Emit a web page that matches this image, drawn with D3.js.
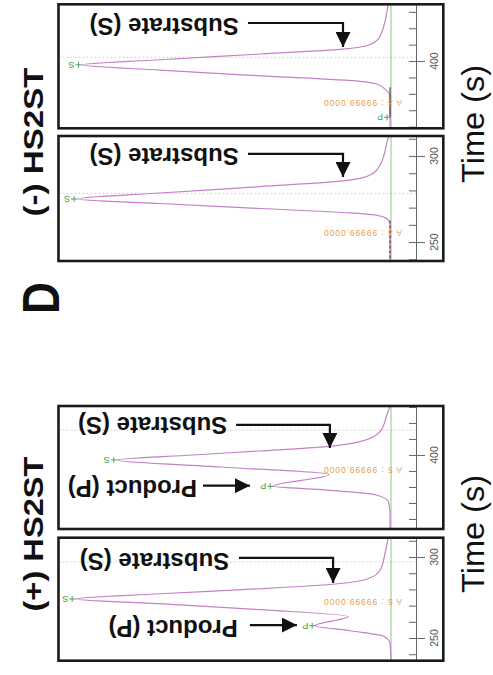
<!DOCTYPE html>
<html>
<head>
<meta charset="utf-8">
<script src="https://cdn.jsdelivr.net/npm/d3@7"></script>
<style>
  body { margin: 0; background: #fff; }
  svg { display: block; }
</style>
</head>
<body>
<script>
// time windows of the four chromatograms (s)
const windowMinusLate = [359.0, 434.6]
const windowMinusEarly = [239.0, 311.6]
const windowPlusLate = [353.75, 430.6]
const windowPlusEarly = [236.0, 311.9]

// traces: [time (s), detector signal (% of full scale)]
const traceMinusLate = [
  [359.0, 0.3], [378.8, 0.3], [382.9, 1.9], [386.0, 4.5], [387.6, 9.7], [391.0, 40.9],
  [394.5, 72.2], [397.7, 96.7], [400.8, 72.2], [404.3, 40.9], [407.3, 15.0], [409.3, 7.6],
  [413.4, 4.0], [420.5, 2.4], [430.7, 1.2], [434.6, 0.9]
]
const traceMinusEarly = [
  [239.0, 0.3], [259.9, 0.3], [262.2, 0.6], [264.2, 1.9], [265.7, 5.0], [266.9, 12.8],
  [269.5, 40.9], [272.4, 72.2], [275.0, 98.1], [278.5, 72.2], [282.2, 40.9], [285.5, 15.0],
  [287.0, 9.7], [289.9, 5.6], [294.8, 3.4], [302.5, 1.9], [310.3, 0.9], [311.6, 0.6]
]
const tracePlusLate = [
  [353.75, 0.3], [362.5, 0.3], [370.8, 0.8], [375.0, 4.5], [378.1, 20.1], [380.4, 36.8],
  [387.8, 19.4], [392.5, 53.4], [396.9, 85.7], [400.0, 61.8], [402.5, 40.9], [405.2, 20.1],
  [408.3, 9.7], [414.6, 3.4], [425.0, 1.3], [430.6, 0.3]
]
const tracePlusEarly = [
  [236.0, 0.0], [240.7, 0.1], [246.7, 0.3], [251.2, 2.4], [254.5, 12.8], [257.6, 23.7],
  [263.2, 13.3], [267.5, 40.9], [271.2, 72.2], [274.1, 98.7], [277.3, 72.2], [280.4, 40.9],
  [283.5, 16.6], [286.6, 7.2], [291.8, 3.4], [302.0, 1.9], [311.9, 0.9]
]

// integrated peak markers: [label, time, signal]
const peaksMinusLate = [['S', 397.7, 96.7], ['P', 365.7, 0.3]]
const peaksMinusEarly = [['S', 275.0, 98.1]]
const peaksPlusLate = [['S', 396.9, 85.7], ['P', 380.4, 36.8]]
const peaksPlusEarly = [['S', 274.1, 98.7], ['P', 257.6, 23.7]]

// dotted reference line time and integration-window label per run
const gridTimes = [402.3, 278.3, 415.6, 296.9]
const windowLabels = ['A 3 : 99999.0000', 'A 3 : 99999.0000', 'A 5 : 99999.0000', 'A 5 : 99999.0000']
const windowLabelTimes = [372.6, 253.1, 388.6, 270.4]

// dark integration baseline segments [from, to] (s)
const integrationMinusLate = [366.0, 384.0]
const integrationMinusEarly = [240.5, 262.5]

// annotations: text anchored at (time, signal), arrow in (time, signal)
const annotMinusLate = [
  { text: 'Substrate (S)', t: 426.0, s: 70.9, arrow: [[423.2, 44.7], [423.2, 15.0], [408.5, 15.0]] }
]
const annotMinusEarly = [
  { text: 'Substrate (S)', t: 304.5, s: 70.9, arrow: [[301.2, 44.7], [301.2, 15.0], [287.8, 15.0]] }
]
const annotPlusLate = [
  { text: 'Substrate (S)', t: 423.9, s: 74.5, arrow: [[418.75, 48.4], [418.75, 19.1], [404.4, 19.1]] },
  { text: 'Product (P)', t: 384.4, s: 80.8, arrow: [[380.8, 58.75], [380.8, 44.1]] }
]
const annotPlusEarly = [
  { text: 'Substrate (S)', t: 302.3, s: 73.9, arrow: [[299.4, 47.5], [299.4, 18.1], [284.0, 18.1]] },
  { text: 'Product (P)', t: 261.1, s: 68.1, arrow: [[258.0, 44.1], [258.0, 29.4]] }
]

const W = 493
const H = 675
const frame = { x0: 58.5, x1: 443.3, axisX: 416 }

const panels = [
  { id: 'a', y0: 4.3, y1: 128.3, win: windowMinusLate, trace: traceMinusLate, peaks: peaksMinusLate, annot: annotMinusLate, integ: integrationMinusLate, dash: null },
  { id: 'b', y0: 136, y1: 261, win: windowMinusEarly, trace: traceMinusEarly, peaks: peaksMinusEarly, annot: annotMinusEarly, integ: integrationMinusEarly, dash: '3,2' },
  { id: 'c', y0: 406, y1: 529, win: windowPlusLate, trace: tracePlusLate, peaks: peaksPlusLate, annot: annotPlusLate, integ: null },
  { id: 'd', y0: 537.7, y1: 660.7, win: windowPlusEarly, trace: tracePlusEarly, peaks: peaksPlusEarly, annot: annotPlusEarly, integ: null }
]

const font = "'Liberation Sans', Arial, Helvetica, sans-serif"
const narrow = "'Liberation Sans Narrow', 'Liberation Sans', Arial, sans-serif"

const svg = d3.select('body').append('svg')
  .attr('width', W)
  .attr('height', H)

const defs = svg.append('defs')
defs.append('marker')
  .attr('id', 'head')
  .attr('viewBox', '0 0 10 10')
  .attr('refX', 10)
  .attr('refY', 5)
  .attr('markerUnits', 'userSpaceOnUse')
  .attr('markerWidth', 15)
  .attr('markerHeight', 15)
  .attr('orient', 'auto')
  .append('path')
    .attr('d', 'M0,0L10,5L0,10Z')
    .attr('fill', '#111')

panels.forEach((p, i) => {
  const y = d3.scaleLinear().domain(p.win).range([p.y1, p.y0])
  const x = d3.scaleLinear().domain([0, 100]).range([391, 71])
  const g = svg.append('g')

  defs.append('clipPath').attr('id', 'clip-' + p.id)
    .append('rect')
      .attr('x', frame.x0)
      .attr('y', p.y0)
      .attr('width', frame.x1 - frame.x0)
      .attr('height', p.y1 - p.y0)

  const inner = g.append('g').attr('clip-path', 'url(#clip-' + p.id + ')')

  inner.append('line')
    .attr('x1', frame.x0)
    .attr('x2', frame.axisX)
    .attr('y1', y(gridTimes[i]))
    .attr('y2', y(gridTimes[i]))
    .attr('stroke', '#c4c4c4')
    .attr('stroke-width', 0.8)
    .attr('stroke-dasharray', '2,2')

  inner.append('line')
    .attr('x1', x(0))
    .attr('x2', x(0))
    .attr('y1', p.y0)
    .attr('y2', p.y1)
    .attr('stroke', '#86cc7c')
    .attr('stroke-width', 1)

  const line = d3.line()
    .x(d => x(d[1]))
    .y(d => y(d[0]))
    .curve(d3.curveMonotoneY)

  inner.append('path')
    .datum(p.trace.slice().reverse())
    .attr('d', line)
    .attr('fill', 'none')
    .attr('stroke', '#c67fc9')
    .attr('stroke-width', 1.2)

  if (p.integ) {
    inner.append('line')
      .attr('x1', x(0.3))
      .attr('x2', x(0.3))
      .attr('y1', y(p.integ[0]))
      .attr('y2', y(p.integ[1]))
      .attr('stroke', '#333')
      .attr('stroke-width', 1)
      .attr('stroke-dasharray', p.dash)
  }

  // integration window label (upside down, as on the instrument print-out)
  inner.append('text')
    .attr('transform', 'translate(' + (x(0) + 11) + ',' + y(windowLabelTimes[i]) + ') rotate(180)')
    .attr('font-family', narrow)
    .attr('font-size', 8.5)
    .attr('fill', '#e6a04a')
    .attr('dominant-baseline', 'hanging')
    .attr('textLength', 78)
    .text(windowLabels[i])

  // peak markers
  p.peaks.forEach(([lab, t, s]) => {
    const px = x(s)
    const py = y(t)
    inner.append('path')
      .attr('d', 'M' + (px - 6) + ',' + py + 'H' + px + 'M' + (px - 3) + ',' + (py - 3) + 'V' + (py + 3))
      .attr('stroke', '#3d9a48')
      .attr('stroke-width', 0.9)
      .attr('fill', 'none')
    inner.append('text')
      .attr('transform', 'translate(' + (px - 10) + ',' + py + ') rotate(180)')
      .attr('font-family', font)
      .attr('font-size', 9)
      .attr('fill', '#3d9a48')
      .attr('text-anchor', 'middle')
      .attr('dominant-baseline', 'central')
      .text(lab)
  })

  // time axis
  const minor = d3.range(Math.ceil(p.win[0] / 10) * 10, p.win[1], 10)
  const major = minor.filter(v => v % 50 === 0)

  g.append('g')
    .attr('transform', 'translate(' + frame.axisX + ',0)')
    .call(d3.axisLeft(y).tickValues(minor).tickSize(7).tickSizeOuter(0).tickFormat(''))
  const ax2 = g.append('g')
    .attr('transform', 'translate(' + frame.axisX + ',0)')
    .call(d3.axisRight(y).tickValues(major).tickSize(9).tickSizeOuter(0).tickFormat(''))
  ax2.select('.domain').remove()
  g.selectAll('.tick line, .domain').attr('stroke', '#666').attr('stroke-width', 1)

  g.selectAll('.tlabel')
    .data(major)
    .enter()
    .append('text')
      .attr('class', 'tlabel')
      .attr('transform', d => 'translate(434,' + y(d) + ') rotate(-90)')
      .attr('font-family', narrow)
      .attr('font-size', 10.5)
      .attr('fill', '#555')
      .attr('text-anchor', 'middle')
      .attr('dominant-baseline', 'central')
      .text(d => d)

  // annotations
  p.annot.forEach(a => {
    g.append('text')
      .attr('transform', 'translate(' + x(a.s) + ',' + y(a.t) + ') rotate(180)')
      .attr('font-family', font)
      .attr('font-weight', 'bold')
      .attr('font-size', 24)
      .attr('fill', '#111')
      .attr('text-anchor', 'middle')
      .text(a.text)
    g.append('path')
      .attr('d', d3.line().x(d => x(d[1])).y(d => y(d[0]))(a.arrow))
      .attr('fill', 'none')
      .attr('stroke', '#111')
      .attr('stroke-width', 2.2)
      .attr('marker-end', 'url(#head)')
  })

  g.append('rect')
    .attr('x', frame.x0)
    .attr('y', p.y0)
    .attr('width', frame.x1 - frame.x0)
    .attr('height', p.y1 - p.y0)
    .attr('fill', 'none')
    .attr('stroke', '#1b1b1b')
    .attr('stroke-width', 2.6)
})

// rotated figure labels
function vtext(cx, cy, str, size, weight, len) {
  svg.append('text')
    .attr('transform', 'translate(' + cx + ',' + cy + ') rotate(-90)')
    .attr('font-family', font)
    .attr('font-size', size)
    .attr('font-weight', weight)
    .attr('fill', '#111')
    .attr('text-anchor', 'middle')
    .attr('textLength', len)
    .attr('lengthAdjust', 'spacingAndGlyphs')
    .text(str)
}

vtext(43, 142, '(-) HS2ST', 28, 'bold', 149)
vtext(43, 534, '(+) HS2ST', 28, 'bold', 155)
vtext(59, 298, 'D', 52, 'bold', 32)
vtext(484, 124, 'Time (s)', 31, 'normal', 118)
vtext(484, 534, 'Time (s)', 31, 'normal', 118)
</script>
</body>
</html>
